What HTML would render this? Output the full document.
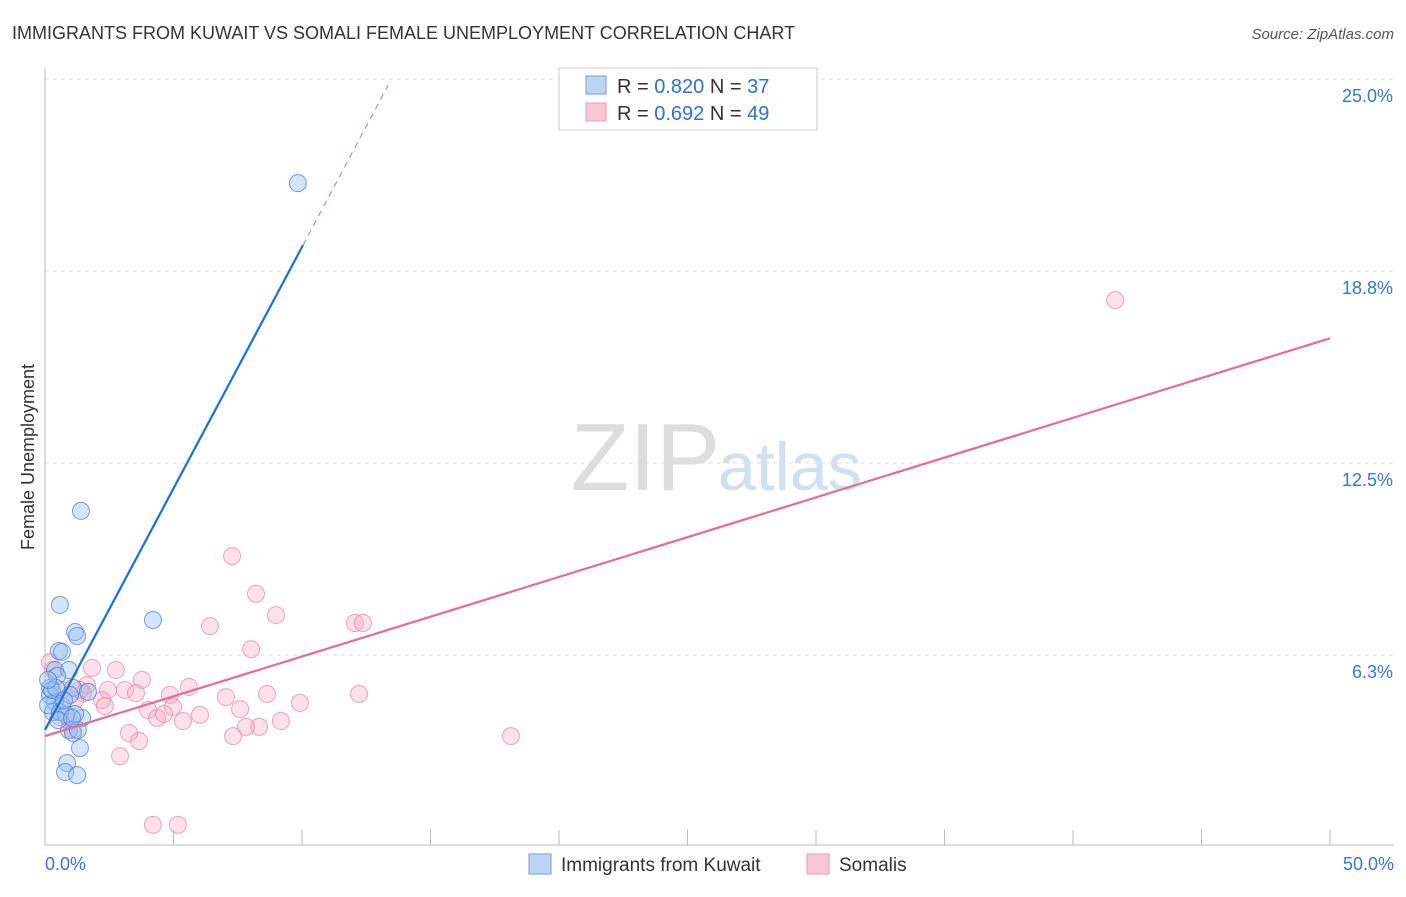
<!DOCTYPE html>
<html><head><meta charset="utf-8"><style>
body{margin:0;background:#fff;font-family:"Liberation Sans",sans-serif;}
svg text{font-family:"Liberation Sans",sans-serif;}
</style></head><body>
<svg id="chart" width="1406" height="892">
<text x="12" y="39" font-size="18" fill="#333">IMMIGRANTS FROM KUWAIT VS SOMALI FEMALE UNEMPLOYMENT CORRELATION CHART</text>
<text x="1394" y="39" font-size="15" fill="#555" font-style="italic" text-anchor="end">Source: ZipAtlas.com</text>
<text x="34" y="457" font-size="18" fill="#333" text-anchor="middle" transform="rotate(-90 34 457)">Female Unemployment</text>
<text x="720" y="490" font-size="96" fill="#ddd" text-anchor="end" font-family="Liberation Serif">ZIP</text>
<text x="718" y="490" font-size="68" fill="#cfe0f3">atlas</text>
<g id="grid"></g>
<g id="axes"></g>
<g id="pts"></g>
<g id="lines"></g>
<g>
<rect x="559" y="68" width="258" height="62" fill="#fff" stroke="#ccc"/>
<rect x="586" y="76" width="20" height="18" fill="#bcd5f5" stroke="#6fa0e0"/>
<rect x="586" y="103" width="20" height="18" fill="#f9c6d5" stroke="#ec9ab3"/>
<text x="617" y="93" font-size="20" fill="#333">R = <tspan fill="#2f6fd6">0.820</tspan>   N = <tspan fill="#2f6fd6">37</tspan></text>
<text x="617" y="120" font-size="20" fill="#333">R = <tspan fill="#2f6fd6">0.692</tspan>   N = <tspan fill="#2f6fd6">49</tspan></text>
</g>
<g>
<rect x="529" y="854" width="22" height="20" fill="#bcd5f5" stroke="#6fa0e0"/>
<text x="561" y="871" font-size="19" fill="#333">Immigrants from Kuwait</text>
<rect x="807" y="854" width="22" height="20" fill="#f9c6d5" stroke="#ec9ab3"/>
<text x="839" y="871" font-size="19" fill="#333">Somalis</text>
</g>
</svg>
<script>
const blueX=[9.84,1.40,0.58,4.20,1.17,1.25,0.54,0.66,0.39,0.93,0.19,1.09,1.67,0.39,0.66,0.31,1.44,1.17,0.93,1.09,1.28,1.36,0.86,0.78,1.25,0.19,0.47,0.12,0.27,0.58,0.82,0.97,0.43,0.74,0.51,1.05,0.12];
const blueY=[21.61,10.94,7.88,7.39,7.00,6.87,6.38,6.35,5.76,5.76,5.18,5.18,5.05,4.72,4.59,4.39,4.20,4.33,3.81,3.71,3.81,3.22,2.73,2.44,2.34,4.95,5.57,4.62,5.11,4.39,4.30,4.95,5.18,4.78,4.13,4.20,5.44];
const pinkX=[8.21,8.99,6.42,12.06,12.37,8.02,1.83,2.76,1.63,3.77,2.45,3.11,3.54,2.22,2.33,5.60,4.86,4.98,4.01,4.36,4.63,5.37,6.03,7.04,7.59,8.64,9.92,12.22,9.18,8.33,7.82,7.32,3.27,3.66,2.92,4.20,5.17,1.09,0.97,0.58,0.31,0.19,1.48,1.36,7.28,41.64,18.13,1.17,0.66];
const pinkY=[8.24,7.55,7.19,7.29,7.29,6.44,5.83,5.76,5.27,5.44,5.11,5.11,5.01,4.78,4.59,5.21,4.95,4.56,4.46,4.20,4.33,4.10,4.30,4.88,4.49,4.98,4.69,4.98,4.10,3.91,3.91,3.61,3.71,3.45,2.96,0.72,0.72,3.81,4.07,4.23,5.76,6.02,5.01,5.11,9.47,17.80,3.61,4.78,5.11];
const blueLine=[3.81,1.572];
const pinkLine=[3.61,0.259];
const yTicks=[25,18.8,12.5,6.3];
const yTickVals=[25,18.75,12.5,6.25];
const NS='http://www.w3.org/2000/svg';
const X=v=>45+v/50*1285, Y=v=>847-v/6.25*192;
function mk(tag,attrs,parent){const e=document.createElementNS(NS,tag);for(const k in attrs)e.setAttribute(k,attrs[k]);parent.appendChild(e);return e;}
const grid=document.getElementById('grid'),axes=document.getElementById('axes'),pts=document.getElementById('pts'),lines=document.getElementById('lines');
yTickVals.forEach((v,i)=>{
 const l=mk('line',{x1:45,x2:1394,y1:Y(v),y2:Y(v),stroke:'#ddd','stroke-dasharray':'4,4'},grid);
 
 
 const t=mk('text',{x:1393,y:Y(v)+23,'font-size':18,fill:'#3a75d0','text-anchor':'end'},axes);
 t.textContent=yTicks[i].toFixed(1)+'%';
 
 
});
mk('line',{x1:45,x2:45,y1:68,y2:845,stroke:'#bbb'},axes);
mk('line',{x1:45,x2:1394,y1:845,y2:845,stroke:'#bbb'},axes);
for(let i=0;i<=10;i++){const tk=mk('line',{x1:X(i*5),x2:X(i*5),y1:830,y2:845,stroke:'#bbb'},axes);
 
 }
const t0=mk('text',{x:45,y:870,'font-size':18,fill:'#3a75d0'},axes);t0.textContent='0.0%';


const t1=mk('text',{x:1394,y:870,'font-size':18,fill:'#3a75d0','text-anchor':'end'},axes);t1.textContent='50.0%';


pinkX.forEach((x,i)=>{const c=mk('circle',{cx:X(x),cy:Y(pinkY[i]),r:8.5,fill:'rgba(246,170,195,0.35)',stroke:'rgba(232,130,160,0.7)'},pts);
 
 });
blueX.forEach((x,i)=>{const c=mk('circle',{cx:X(x),cy:Y(blueY[i]),r:8.5,fill:'rgba(150,190,240,0.4)',stroke:'rgba(70,130,215,0.75)'},pts);
 
 });
const bl=mk('line',{x1:X(0),y1:Y(blueLine[0]),x2:X(10.04),y2:Y(blueLine[0]+blueLine[1]*10.04),stroke:'#1f6fd8','stroke-width':2.2},lines);


const bd=mk('line',{x1:X(10.04),y1:Y(blueLine[0]+blueLine[1]*10.04),x2:X(13.35),y2:Y(blueLine[0]+blueLine[1]*13.35),stroke:'#7aa8e6','stroke-width':1.2,'stroke-dasharray':'6,5'},lines);


const pl=mk('line',{x1:X(0),y1:Y(pinkLine[0]),x2:X(50),y2:Y(pinkLine[0]+pinkLine[1]*50),stroke:'#e66b95','stroke-width':2.2},lines);


</script>
</body></html>
